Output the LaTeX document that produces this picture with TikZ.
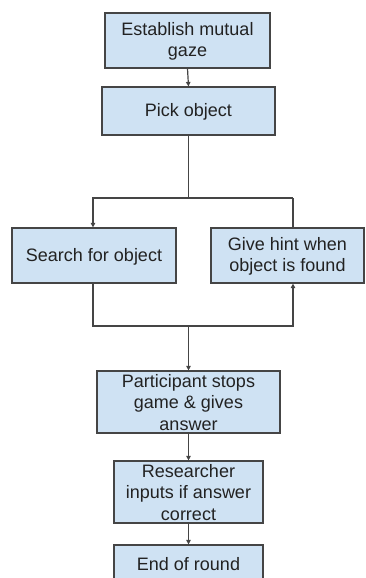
\documentclass[tikz,border=0pt]{standalone}
\usepackage{fontspec}
\setmainfont{Liberation Sans}
\usetikzlibrary{arrows.meta,calc}
\definecolor{boxfill}{HTML}{CFE2F3}
\definecolor{boxline}{HTML}{454545}
\definecolor{txt}{HTML}{222222}
\newcommand{\sr}{\rule[-1.5pt]{0pt}{16.5pt}}
\tikzset{
  flowbox/.style={draw=boxline, fill=boxfill, line width=1.2pt, align=center,
    inner sep=0pt, text=txt, font=\fontsize{18}{21.3}\selectfont},
  conn/.style={draw=boxline, line width=1.2pt},
  arr/.style={conn, -{Triangle[length=4.5pt,width=4.5pt]}},
}
\begin{document}
\begin{tikzpicture}[x=1pt,y=-1pt]
\useasboundingbox (0,0) rectangle (365,578);
\clip (0,0) rectangle (365,578);
\node[flowbox, minimum width=165pt, minimum height=55pt] (b1) at (187.5,40.5) {\sr Establish mutual\\\sr gaze};
\node[flowbox, minimum width=173pt, minimum height=48pt] (b2) at (188.5,111) {\sr Pick object};
\node[flowbox, minimum width=164pt, minimum height=55pt] (b3) at (94,255.5) {\sr Search for object};
\node[flowbox, minimum width=153pt, minimum height=55pt] (b4) at (287.5,255.5) {\sr Give hint when\\\sr object is found};
\node[flowbox, minimum width=183pt, minimum height=62pt] (b5) at (188.5,402) {\sr Participant stops\\\sr game \& gives\\\sr answer};
\node[flowbox, minimum width=149pt, minimum height=62pt] (b6) at (188.5,492) {\sr Researcher\\\sr inputs if answer\\\sr correct};
\node[flowbox, minimum width=149pt, minimum height=37pt] (b7) at (188.5,563.5) {\sr End of round};
\coordinate (splitL) at (93,198);
\coordinate (splitR) at (293,198);
\coordinate (joinL) at (93,326);
\coordinate (joinR) at (293,326);
\coordinate (join) at (188.5,326);
\draw[arr] (b1.south) -- (b2.north);
\draw[conn] (b2.south) -- (b2.south |- splitL);
\draw[arr] (splitR) -- (splitL) -- (b3.north -| splitL);
\draw[conn] (splitR) -- (b4.north -| splitR);
\draw[arr] (b3.south -| joinL) -- (joinL) -- (joinR) -- (b4.south -| joinR);
\draw[arr] (join) -- (b5.north);
\draw[arr] (b5.south) -- (b6.north);
\draw[arr] (b6.south) -- (b7.north);
\end{tikzpicture}
\end{document}
